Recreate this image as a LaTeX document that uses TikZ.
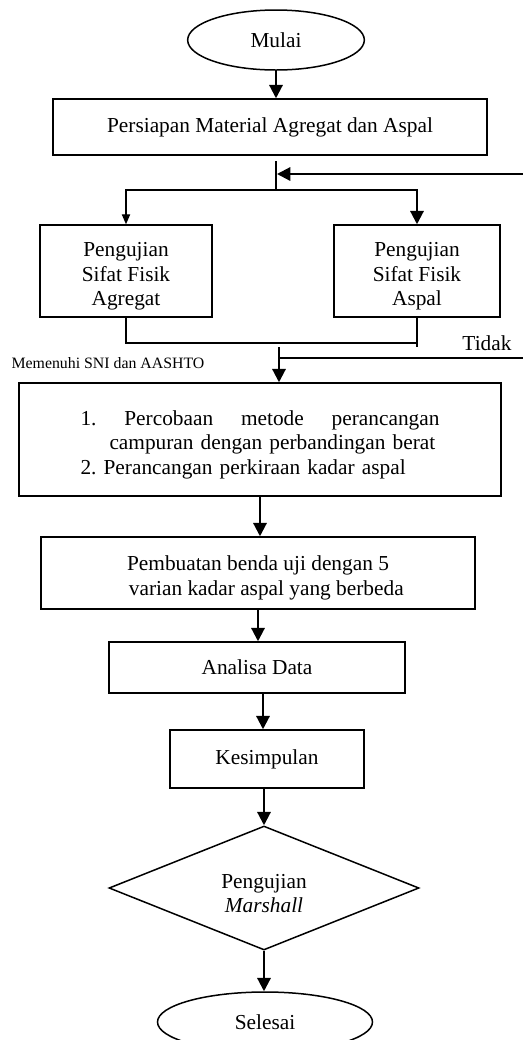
\documentclass[tikz,border=0pt]{standalone}
\usepackage{fontspec}
\setmainfont{Liberation Serif}
\usepackage{tikz}
\usetikzlibrary{shapes.geometric,positioning,arrows.meta}
\tikzset{
 b/.style
  = {rectangle, draw, line width=0.9pt, text centered, inner sep=0pt},
 t/.style
  = {ellipse, draw, line width=0.9pt, inner sep=0pt},
 d/.style
  = {diamond, draw, line width=0.9pt, inner sep=0pt, aspect=2.5, align=center},
 l/.style
  = {draw, -{Triangle[length=8pt,width=8pt]}, line width=1.3pt},
 ls/.style
  = {draw, -{Triangle[length=6pt,width=5pt]}, line width=0.7pt},
 ll/.style
  = {draw, line width=0.9pt},
}
\newcommand{\tpad}{\rule{0pt}{15pt}}

\begin{document}
\frenchspacing
\begin{tikzpicture}[x=0.6pt, y=-0.6pt,
    font=\fontsize{12.8}{14.7}\selectfont]

\useasboundingbox (0,0) rectangle (523,1040);

% Mulai
\node[t, minimum width=106pt, minimum height=36pt] (mulai) at (276,40) {Mulai};

% Persiapan
\node[b, minimum width=260.4pt, minimum height=33.6pt] (persiapan) at (270,127)
  {Persiapan Material Agregat dan Aspal};

% Pengujian agregat dan aspal
\node[b, minimum width=103.2pt, minimum height=55.2pt, align=center] (agregat) at (126,271)
  {\tpad Pengujian\\Sifat Fisik\\Agregat};
\node[b, minimum width=99.6pt, minimum height=55.2pt, align=center] (aspal) at (417,271)
  {\tpad Pengujian\\Sifat Fisik\\Aspal};

% Percobaan
\node[b, minimum width=289.2pt, minimum height=67.8pt, text width=215.4pt, align=left] (percobaan) at (260,439.5)
  {\tpad 1.\hfill Percobaan\hfill metode\hfill perancangan\\
   \hspace*{17.4pt}campuran dengan perbandingan berat\\
   2. Perancangan perkiraan kadar aspal};

% Pembuatan
\node[b, minimum width=260.4pt, minimum height=43.2pt, align=center] (pembuatan) at (258,573)
  {\tpad Pembuatan benda uji dengan 5\\ \hspace*{10pt}varian kadar aspal yang berbeda};

% Analisa, Kesimpulan
\node[b, minimum width=177.6pt, minimum height=30.6pt] (analisa) at (257,667.5) {Analisa Data};
\node[b, minimum width=116.4pt, minimum height=34.8pt] (kesimpulan) at (267,759) {Kesimpulan};

% Marshall
\node[d, minimum width=186pt, minimum height=74.4pt] (marshall) at (264,888)
  {\tpad Pengujian\\\textit{Marshall}};

% Selesai
\node[t, minimum width=129pt, minimum height=36pt] (selesai) at (265,1022) {Selesai};

% Titik bantu
\coordinate (j1) at (276,161);
\coordinate (j2) at (276,190);
\coordinate (fb1) at (523,174);
\coordinate (fb2) at (277,174);
\coordinate (m1) at (417,343);
\coordinate (j3) at (279,347);
\coordinate (fb3) at (523,358);
\coordinate (fb4) at (279,358);

% Konektor
\draw[l] (mulai.south) -- (mulai.south |- persiapan.north);
\draw[ll] (j1) -- (j2);
\draw[l] (fb1) -- (fb2);
\draw[ls] (j2) -| (agregat.north);
\draw[l] (j2) -| (aspal.north);
\draw[ll] (agregat.south) |- (m1);
\draw[ll] (aspal.south) -- (aspal.south |- j3);
\draw[l] (j3) -- (j3 |- percobaan.north);
\draw[ll] (fb4) -- (fb3);
\draw[l] (percobaan.south) -- (percobaan.south |- pembuatan.north);
\draw[l] (pembuatan.south) -- (pembuatan.south |- analisa.north);
\draw[l] ([xshift=3.6pt]analisa.south) -- ([xshift=3.6pt]analisa.south |- kesimpulan.north);
\draw[l] (marshall.north |- kesimpulan.south) -- (marshall.north);
\draw[l] (marshall.south) -- (marshall.south |- selesai.north);

% Label
\node (tidak) at (487,343) {Tidak};
\node[font=\fontsize{9.5}{11}\selectfont] (memenuhi) at (108,363) {Memenuhi SNI dan AASHTO};

\end{tikzpicture}
\end{document}
